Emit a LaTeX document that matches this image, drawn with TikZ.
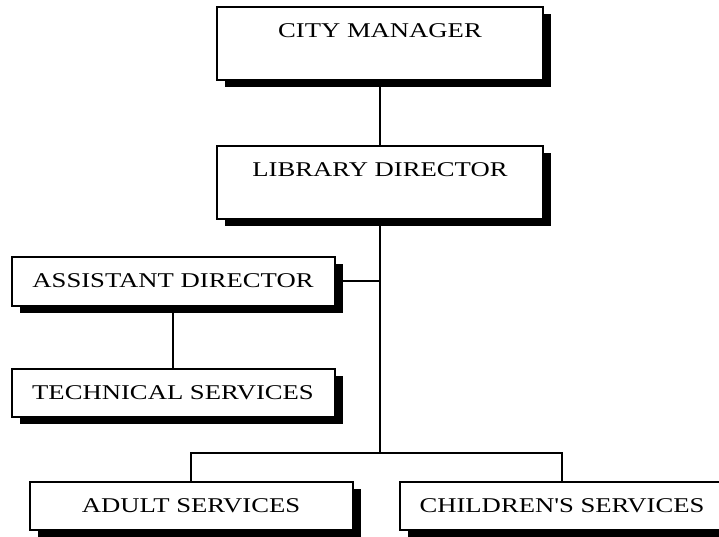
\documentclass[tikz,border=0pt]{standalone}
\usepackage{fontspec}
\setmainfont{Liberation Serif}[FakeStretch=1.27, Ligatures=TeXOff]
\usetikzlibrary{shadows}
\begin{document}
\begin{tikzpicture}[x=1pt,y=1pt,
  orgbox/.style={draw=black, line width=2pt, fill=white, rectangle, inner sep=0pt,
    font=\fontsize{21}{25}\selectfont,
    general shadow={fill=black, shadow xshift=8pt, shadow yshift=-7pt}},
  topbox/.style={orgbox, minimum width=326pt, text height=31pt, text depth=42pt},
  lowbox/.style={orgbox, minimum width=323pt, minimum height=49pt},
  link/.style={line width=2.5pt}]
\useasboundingbox (0,0) rectangle (719,-537);
\clip (0,0) rectangle (719,-537);
\node[topbox] (cm) at (380,-43.5) {CITY MANAGER};
\node[topbox] (ld) at (380,-182.5) {LIBRARY DIRECTOR};
\node[lowbox] (ad) at (173,-281) {ASSISTANT DIRECTOR};
\node[lowbox, minimum height=48pt] (ts) at (173,-393) {TECHNICAL SERVICES};
\node[lowbox, minimum height=48pt] (as) at (191,-506) {ADULT SERVICES};
\node[lowbox, minimum width=324pt, minimum height=48pt] (cs) at (562,-506) {CHILDREN'S SERVICES};
\coordinate (bus) at (380,-453);
\draw[link] (cm.south) -- (ld.north);
\draw[link] (ld.south) -- (bus);
\draw[link] (ad.east) -- (ad.east -| bus);
\draw[link] (ad.south) -- (ts.north);
\draw[link] (as.north) |- (bus) -| (cs.north);
\end{tikzpicture}
\end{document}
